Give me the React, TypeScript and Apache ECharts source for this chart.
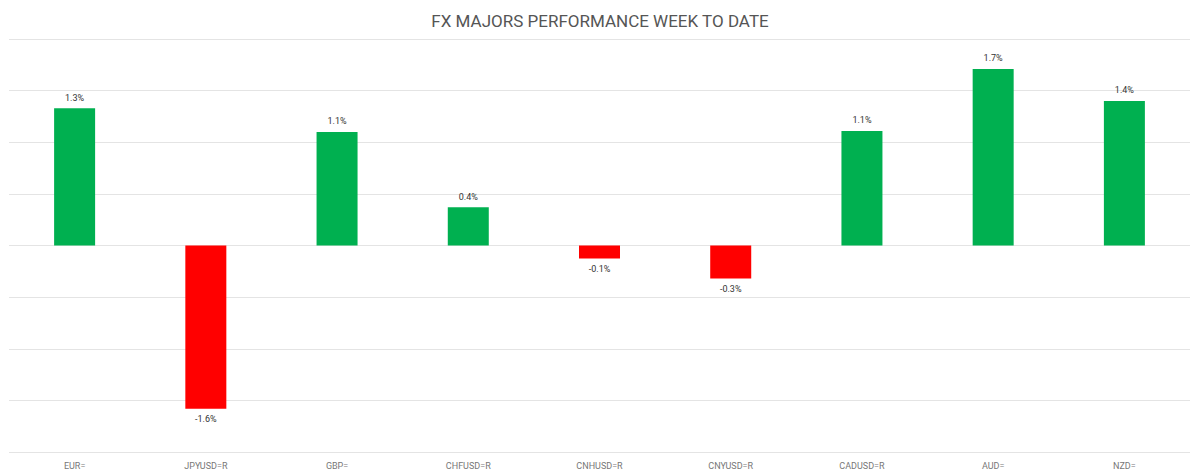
import React, { useEffect, useRef } from "react";
import * as echarts from "echarts";

const categories = ["EUR=", "JPYUSD=R", "GBP=", "CHFUSD=R", "CNHUSD=R", "CNYUSD=R", "CADUSD=R", "AUD=", "NZD="];
const values = [1.33, -1.58, 1.1, 0.37, -0.125, -0.32, 1.11, 1.71, 1.4];
const labels = ["1.3%", "-1.6%", "1.1%", "0.4%", "-0.1%", "-0.3%", "1.1%", "1.7%", "1.4%"];
const titleText = "FX MAJORS PERFORMANCE WEEK TO DATE";

export default function App() {
  const ref = useRef<HTMLDivElement>(null);
  useEffect(() => {
    document.body.style.margin = "0";
    const chart = echarts.init(ref.current!, null, { renderer: "svg" });
    chart.setOption({
      animation: false,
      title: {
        text: titleText,
        left: "center",
        top: 7,
        textStyle: { fontFamily: "Roboto", fontWeight: "normal", fontSize: 17, color: "#555" },
      },
      grid: { left: 9, right: 10, top: 39, bottom: 24, containLabel: false },
      xAxis: {
        type: "category",
        data: categories,
        axisLine: { show: false },
        axisTick: { show: false },
        axisLabel: { color: "#777", fontSize: 9, fontFamily: "Roboto", margin: 9 },
      },
      yAxis: {
        type: "value",
        min: -2,
        max: 2,
        interval: 0.5,
        axisLabel: { show: false },
        axisLine: { show: false },
        axisTick: { show: false },
        splitLine: { lineStyle: { color: "#e4e4e4", width: 1 } },
      },
      series: [
        {
          type: "bar",
          barWidth: 41,
          data: values.map((v, i) => ({
            value: v,
            itemStyle: { color: v >= 0 ? "#00b050" : "#ff0000" },
            label: {
              show: true,
              position: v >= 0 ? "top" : "bottom",
              formatter: labels[i],
              fontSize: 9,
              fontFamily: "Roboto",
              color: "#333",
              distance: 6,
            },
          })),
        },
      ],
    });
    return () => chart.dispose();
  }, []);
  return <div ref={ref} style={{ width: 1200, height: 476 }} />;
}
